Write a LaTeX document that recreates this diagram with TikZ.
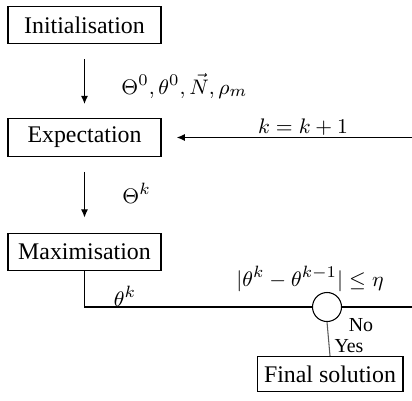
\documentclass[tikz,border=0pt]{standalone}
\usepackage{fontspec}
\setmainfont{Liberation Serif}
\usetikzlibrary{arrows.meta}
\begin{document}
\begin{tikzpicture}[x=0.4275pt,y=-0.4275pt,
  stepbox/.style={draw,line width=0.45pt,minimum width=65.4pt,minimum height=16.2pt,inner sep=0pt,font=\rmfamily\fontsize{10.2}{12}\selectfont},
  finbox/.style={draw,line width=0.45pt,minimum width=62.4pt,minimum height=15pt,inner sep=0pt,font=\rmfamily\fontsize{10.2}{12}\selectfont},
  lbl/.style={font=\rmfamily\fontsize{9.4}{11}\selectfont,inner sep=0pt},
  tlbl/.style={font=\rmfamily\fontsize{8.5}{10}\selectfont,inner sep=0pt},
  arr/.style={-{Latex[length=3.5pt,width=3pt]},line width=0.45pt},
  ln/.style={line width=0.45pt}]
\useasboundingbox (0,0) rectangle (412,400);
\node[stepbox] (init) at (84.5,25) {Initialisation};
\node[stepbox] (exp) at (84.5,137.5) {Expectation};
\node[stepbox] (max) at (84.5,252) {Maximisation};
\node[finbox] (fin) at (330,374) {Final solution};
\node[draw,circle,fill=white,line width=0.45pt,minimum size=12.4pt,inner sep=0pt] (c) at (327,307) {};
\coordinate (r1) at (412,307);
\coordinate (r2) at (412,137.5);
\draw[arr,shorten <=6.4pt,shorten >=6pt] (init) -- (exp);
\draw[arr,shorten <=6.4pt,shorten >=6.4pt] (exp) -- (max);
\draw[arr,shorten >=6.5pt] (r2) -- (exp.east);
\draw[ln] (max.south) |- (c.west);
\draw[ln] (c.east) -- (r1);
\draw[ln,gray!70!black] (c.south) -- (fin.north);
\node[lbl,anchor=west] (l1) at (121,86) {$\Theta^0, \theta^0, \vec{N}, \rho_m$};
\node[lbl] (l2) at (303,127) {$k=k+1$};
\node[lbl,anchor=west] (l3) at (122,193) {$\Theta^k$};
\node[lbl] (l4) at (125,296) {$\theta^k$};
\node[lbl] (l5) at (310,279) {$|\theta^k-\theta^{k-1}|\leq\eta$};
\node[tlbl] (l6) at (361,325) {No};
\node[tlbl] (l7) at (349,346) {Yes};
\end{tikzpicture}
\end{document}
